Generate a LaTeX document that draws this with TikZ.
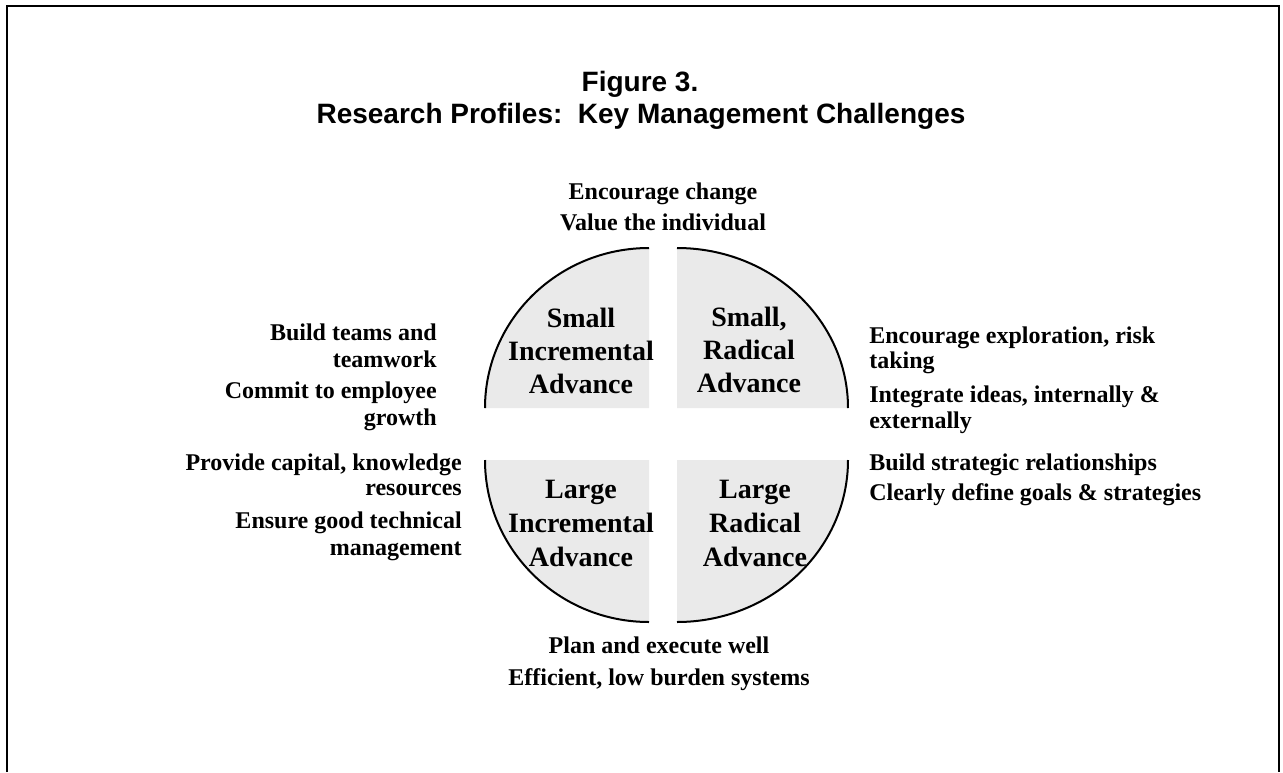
\documentclass[tikz,border=0pt]{standalone}
\usepackage{fontspec}
\setmainfont{Liberation Serif}
\newfontfamily\headfont{Liberation Sans}
\begin{document}
\begin{tikzpicture}[x=0.75pt,y=-0.75pt,
  quadfill/.style={fill=qgray, draw=none},
  quadedge/.style={draw=black, line width=1.5pt},
  frame/.style={draw=black, line width=1.9pt},
  headline/.style={font=\headfont\bfseries\fontsize{21}{25}\selectfont, anchor=base, inner sep=0pt},
  qlabel/.style={font=\bfseries\fontsize{21}{25}\selectfont, anchor=base, inner sep=0pt},
  item/.style={font=\bfseries\fontsize{18}{22}\selectfont, inner sep=0pt},
  itemL/.style={item, anchor=base east},
  itemR/.style={item, anchor=base west},
  itemC/.style={item, anchor=base}]
\definecolor{qgray}{RGB}{234,234,234}
\useasboundingbox (0,0) rectangle (1283,772);

% outer frame (runs off the bottom of the page)
\draw[frame] (7,772) -- (7,6) -- (1279,6) -- (1279,772);

% title
\node[headline] (fig) at (640,91) {Figure 3.};
\node[headline] (title) at (641,123) {Research Profiles:\ \ Key Management Challenges};

% four quadrants of the profile circle
\fill[quadfill] (649,408) -- (485,408) arc[start angle=180,end angle=270,x radius=164,y radius=160] -- cycle;
\draw[quadedge] (485,408) arc[start angle=180,end angle=270,x radius=164,y radius=160];
\fill[quadfill] (677,408) -- (677,248) arc[start angle=270,end angle=360,x radius=171,y radius=160] -- cycle;
\draw[quadedge] (677,248) arc[start angle=270,end angle=360,x radius=171,y radius=160];
\fill[quadfill] (649,460) -- (485,460) arc[start angle=180,end angle=90,x radius=164,y radius=162] -- cycle;
\draw[quadedge] (485,460) arc[start angle=180,end angle=90,x radius=164,y radius=162];
\fill[quadfill] (677,460) -- (677,622) arc[start angle=90,end angle=0,x radius=171,y radius=162] -- cycle;
\draw[quadedge] (677,622) arc[start angle=90,end angle=0,x radius=171,y radius=162];

% quadrant labels
\node[qlabel] (sia) at (581,327) {Small};
\node[qlabel] (sib) at (581,360) {Incremental};
\node[qlabel] (sic) at (581,393) {Advance};
\node[qlabel] (sra) at (749,326) {Small,};
\node[qlabel] (srb) at (749,359) {Radical};
\node[qlabel] (src) at (749,392) {Advance};
\node[qlabel] (lia) at (581,498) {Large};
\node[qlabel] (lib) at (581,532) {Incremental};
\node[qlabel] (lic) at (581,566) {Advance};
\node[qlabel] (lra) at (755,498) {Large};
\node[qlabel] (lrb) at (755,532) {Radical};
\node[qlabel] (lrc) at (755,566) {Advance};

% challenges above
\node[itemC] (top1) at (663,199) {Encourage change};
\node[itemC] (top2) at (663,230) {Value the individual};

% challenges below
\node[itemC] (bot1) at (659,653) {Plan and execute well};
\node[itemC] (bot2) at (659,685) {Efficient, low burden systems};

% challenges on the left
\node[itemL] (l1a) at (437,340) {Build teams and};
\node[itemL] (l1b) at (437,367) {teamwork};
\node[itemL] (l2a) at (437,398) {Commit to employee};
\node[itemL] (l2b) at (437,425) {growth};
\node[itemL] (l3a) at (462,470) {Provide capital, knowledge};
\node[itemL] (l3b) at (462,495) {resources};
\node[itemL] (l4a) at (462,528) {Ensure good technical};
\node[itemL] (l4b) at (462,555) {management};

% challenges on the right
\node[itemR] (r1a) at (869,343) {Encourage exploration, risk};
\node[itemR] (r1b) at (869,368) {taking};
\node[itemR] (r2a) at (869,402) {Integrate ideas, internally \&};
\node[itemR] (r2b) at (869,428) {externally};
\node[itemR] (r3) at (869,470) {Build strategic relationships};
\node[itemR] (r4) at (869,500) {Clearly define goals \& strategies};
\end{tikzpicture}
\end{document}
